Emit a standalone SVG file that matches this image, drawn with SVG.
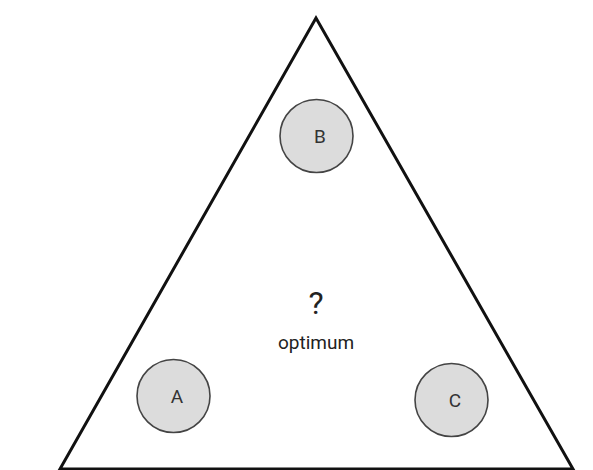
<svg xmlns="http://www.w3.org/2000/svg" width="593" height="470" viewBox="0 0 593 470">
<style>
.node circle{fill:#dcdcdc;stroke:#444;stroke-width:1.6}
.lbl{font-family:Roboto,"Liberation Sans",sans-serif;font-size:19px;fill:#333;text-anchor:middle}
</style>
<rect width="593" height="470" fill="#fff"/>
<g id="triangle">
<polygon points="316,18 60,469 573,469" fill="none" stroke="#111" stroke-width="3" stroke-linejoin="miter"/>
</g>
<g id="nodeB" class="node"><circle cx="316.5" cy="136" r="36.5"/><text class="lbl" x="320" y="143">B</text></g>
<g id="nodeA" class="node"><circle cx="173.5" cy="396" r="36.5"/><text class="lbl" x="177" y="403">A</text></g>
<g id="nodeC" class="node"><circle cx="451.5" cy="400" r="36.5"/><text class="lbl" x="455" y="407">C</text></g>
<g id="optimum">
<text class="lbl" x="316" y="314" style="font-size:32px;fill:#222">?</text>
<text class="lbl" x="316" y="349" style="font-size:19px;fill:#222">optimum</text>
</g>
<g id="connectors"></g>
</svg>
